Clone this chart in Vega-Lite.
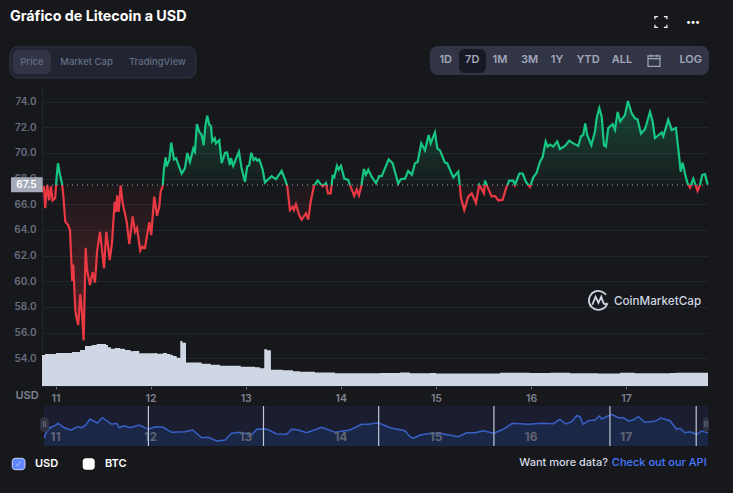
{
"$schema":"https://vega.github.io/schema/vega-lite/v6.json",
"width":666,"height":300,
"autosize":{"type":"none"},
"padding":{"left":42,"right":25,"top":86,"bottom":107},
"background":"#17181b",
"config":{"view":{"stroke":null},"text":{"font":"Inter","fontSize":11,"fontWeight":600,"baseline":"middle","align":"center"}},
"datasets":{
"price":[
{"t":10.858,"price":67.0},{"t":10.879,"price":67.4},{"t":10.892,"price":65.7},{"t":10.913,"price":67.5},{"t":10.934,"price":66.3},{"t":10.952,"price":67.4},{"t":10.970,"price":66.3},{"t":10.997,"price":66.5},{"t":11.012,"price":68.15},{"t":11.026,"price":69.2},{"t":11.047,"price":68.3},{"t":11.068,"price":67.65},{"t":11.082,"price":66.7},{"t":11.103,"price":64.65},{"t":11.131,"price":64.4},{"t":11.152,"price":64},{"t":11.176,"price":60},{"t":11.187,"price":61.3},{"t":11.208,"price":57.75},{"t":11.223,"price":57.1},{"t":11.239,"price":56.6},{"t":11.260,"price":59},{"t":11.278,"price":57.5},{"t":11.296,"price":55.4},{"t":11.317,"price":62.6},{"t":11.331,"price":60.9},{"t":11.362,"price":59.7},{"t":11.391,"price":60.7},{"t":11.415,"price":59.9},{"t":11.439,"price":62.45},{"t":11.468,"price":63.85},{"t":11.485,"price":62.7},{"t":11.510,"price":61},{"t":11.534,"price":63.85},{"t":11.570,"price":61.65},{"t":11.594,"price":63},{"t":11.622,"price":66.2},{"t":11.636,"price":65.4},{"t":11.649,"price":66.7},{"t":11.664,"price":65.4},{"t":11.685,"price":67.45},{"t":11.706,"price":66.1},{"t":11.748,"price":64.65},{"t":11.776,"price":62.9},{"t":11.811,"price":65.05},{"t":11.836,"price":63.85},{"t":11.857,"price":64.15},{"t":11.891,"price":62.4},{"t":11.912,"price":62.7},{"t":11.941,"price":62.6},{"t":11.986,"price":64.6},{"t":12.007,"price":63.6},{"t":12.038,"price":66.6},{"t":12.067,"price":65.1},{"t":12.091,"price":65.8},{"t":12.106,"price":67},{"t":12.127,"price":67.4},{"t":12.140,"price":68.7},{"t":12.158,"price":69.65},{"t":12.169,"price":68.95},{"t":12.196,"price":69.45},{"t":12.217,"price":70.8},{"t":12.246,"price":69.5},{"t":12.267,"price":69.6},{"t":12.327,"price":68.4},{"t":12.361,"price":68.8},{"t":12.386,"price":70},{"t":12.414,"price":69.3},{"t":12.449,"price":70.35},{"t":12.466,"price":70.1},{"t":12.487,"price":72.25},{"t":12.512,"price":71.65},{"t":12.537,"price":71.4},{"t":12.558,"price":70.6},{"t":12.575,"price":72.1},{"t":12.596,"price":72.9},{"t":12.617,"price":72.2},{"t":12.635,"price":72.1},{"t":12.648,"price":70.9},{"t":12.674,"price":71.15},{"t":12.687,"price":70.75},{"t":12.722,"price":71},{"t":12.747,"price":69.2},{"t":12.782,"price":70},{"t":12.803,"price":70.05},{"t":12.834,"price":69.05},{"t":12.845,"price":69.6},{"t":12.869,"price":69},{"t":12.898,"price":69.55},{"t":12.929,"price":70.1},{"t":12.957,"price":68.8},{"t":12.992,"price":67.75},{"t":13.016,"price":68.95},{"t":13.037,"price":69.05},{"t":13.058,"price":70},{"t":13.084,"price":69.45},{"t":13.105,"price":69.6},{"t":13.122,"price":69.4},{"t":13.143,"price":69.5},{"t":13.178,"price":68.7},{"t":13.202,"price":67.7},{"t":13.237,"price":67.95},{"t":13.273,"price":68.2},{"t":13.318,"price":67.95},{"t":13.378,"price":68.6},{"t":13.413,"price":67.95},{"t":13.437,"price":67.4},{"t":13.465,"price":65.55},{"t":13.494,"price":65.8},{"t":13.507,"price":65.55},{"t":13.528,"price":66},{"t":13.563,"price":65.15},{"t":13.588,"price":64.8},{"t":13.634,"price":65.3},{"t":13.658,"price":64.8},{"t":13.683,"price":66.2},{"t":13.718,"price":67.45},{"t":13.757,"price":67.85},{"t":13.809,"price":67.4},{"t":13.823,"price":67.5},{"t":13.844,"price":67.65},{"t":13.865,"price":66.85},{"t":13.893,"price":66.85},{"t":13.914,"price":68.2},{"t":13.931,"price":68.1},{"t":13.960,"price":69},{"t":13.977,"price":68.7},{"t":14.002,"price":69},{"t":14.036,"price":68},{"t":14.078,"price":67.9},{"t":14.104,"price":67.35},{"t":14.141,"price":66.65},{"t":14.167,"price":67.15},{"t":14.191,"price":66.7},{"t":14.215,"price":67.4},{"t":14.243,"price":68.75},{"t":14.264,"price":68.3},{"t":14.289,"price":68.7},{"t":14.324,"price":68.15},{"t":14.370,"price":67.65},{"t":14.404,"price":68.2},{"t":14.430,"price":68.2},{"t":14.464,"price":68.8},{"t":14.503,"price":69.5},{"t":14.545,"price":69.2},{"t":14.604,"price":67.6},{"t":14.629,"price":67.95},{"t":14.675,"price":68},{"t":14.709,"price":68.6},{"t":14.748,"price":68.3},{"t":14.780,"price":69.2},{"t":14.808,"price":69.3},{"t":14.846,"price":70.75},{"t":14.885,"price":70.2},{"t":14.924,"price":71.4},{"t":14.945,"price":70.75},{"t":14.990,"price":71.6},{"t":15.014,"price":70.35},{"t":15.043,"price":70.2},{"t":15.095,"price":69.25},{"t":15.119,"price":69.2},{"t":15.183,"price":68.1},{"t":15.235,"price":68.55},{"t":15.253,"price":67.35},{"t":15.263,"price":66.5},{"t":15.298,"price":65.55},{"t":15.340,"price":66.6},{"t":15.376,"price":66.85},{"t":15.421,"price":66.1},{"t":15.456,"price":67.5},{"t":15.505,"price":66.85},{"t":15.516,"price":67.85},{"t":15.540,"price":67.4},{"t":15.586,"price":66.6},{"t":15.621,"price":66.65},{"t":15.656,"price":66.3},{"t":15.702,"price":66.35},{"t":15.737,"price":67.25},{"t":15.771,"price":67.85},{"t":15.813,"price":67.85},{"t":15.831,"price":67.5},{"t":15.877,"price":68.4},{"t":15.912,"price":68.4},{"t":15.947,"price":67.75},{"t":15.989,"price":67.35},{"t":16.024,"price":68.1},{"t":16.059,"price":68.45},{"t":16.094,"price":69.3},{"t":16.123,"price":69.7},{"t":16.154,"price":70.9},{"t":16.175,"price":70.5},{"t":16.199,"price":70.65},{"t":16.234,"price":70.5},{"t":16.276,"price":70.9},{"t":16.304,"price":70.3},{"t":16.357,"price":70.55},{"t":16.402,"price":70.95},{"t":16.444,"price":70.75},{"t":16.497,"price":70.55},{"t":16.525,"price":71.3},{"t":16.549,"price":71.4},{"t":16.570,"price":72.3},{"t":16.591,"price":71.4},{"t":16.634,"price":70.6},{"t":16.672,"price":71.65},{"t":16.690,"price":72.7},{"t":16.718,"price":73.5},{"t":16.743,"price":72.85},{"t":16.767,"price":70.6},{"t":16.788,"price":70.5},{"t":16.812,"price":71.95},{"t":16.859,"price":72.25},{"t":16.883,"price":71.8},{"t":16.911,"price":73.2},{"t":16.938,"price":72.45},{"t":16.988,"price":72.95},{"t":17.019,"price":74.05},{"t":17.058,"price":73.1},{"t":17.093,"price":72.7},{"t":17.121,"price":72.6},{"t":17.156,"price":71.5},{"t":17.198,"price":71.85},{"t":17.251,"price":73.2},{"t":17.279,"price":72.45},{"t":17.303,"price":71.15},{"t":17.374,"price":71.6},{"t":17.391,"price":71.3},{"t":17.443,"price":72.6},{"t":17.479,"price":71.8},{"t":17.524,"price":71.95},{"t":17.548,"price":70.35},{"t":17.574,"price":68.55},{"t":17.595,"price":69.25},{"t":17.619,"price":68.4},{"t":17.643,"price":67.7},{"t":17.672,"price":67.3},{"t":17.706,"price":68},{"t":17.752,"price":67.05},{"t":17.776,"price":67.5},{"t":17.801,"price":68.3},{"t":17.829,"price":68.35},{"t":17.857,"price":67.55}
],
"volume":[
{"t":10.858,"vol":3.1},{"t":10.889,"vol":3.2},{"t":11.005,"vol":3.3},{"t":11.173,"vol":3.4},{"t":11.257,"vol":3.6},{"t":11.31,"vol":4.0},{"t":11.38,"vol":4.1},{"t":11.433,"vol":4.2},{"t":11.531,"vol":4.1},{"t":11.552,"vol":3.87},{"t":11.583,"vol":3.73},{"t":11.625,"vol":3.8},{"t":11.678,"vol":3.73},{"t":11.73,"vol":3.6},{"t":11.79,"vol":3.47},{"t":11.815,"vol":3.5},{"t":11.881,"vol":3.27},{"t":12.046,"vol":3.3},{"t":12.067,"vol":3.23},{"t":12.13,"vol":3.3},{"t":12.172,"vol":3.2},{"t":12.204,"vol":3.13},{"t":12.235,"vol":3.0},{"t":12.274,"vol":2.83},{"t":12.312,"vol":4.5},{"t":12.335,"vol":4.33},{"t":12.372,"vol":2.35},{"t":12.537,"vol":2.23},{"t":12.632,"vol":2.13},{"t":12.729,"vol":2.03},{"t":12.947,"vol":1.93},{"t":13.097,"vol":1.87},{"t":13.15,"vol":1.77},{"t":13.195,"vol":3.67},{"t":13.224,"vol":3.57},{"t":13.265,"vol":1.63},{"t":13.392,"vol":1.57},{"t":13.497,"vol":1.47},{"t":13.571,"vol":1.43},{"t":13.728,"vol":1.35},{"t":13.939,"vol":1.28},{"t":14.412,"vol":1.3},{"t":14.622,"vol":1.35},{"t":14.727,"vol":1.28},{"t":14.937,"vol":1.3},{"t":15.0,"vol":1.25},{"t":15.463,"vol":1.25},{"t":15.674,"vol":1.32},{"t":15.989,"vol":1.3},{"t":16.199,"vol":1.32},{"t":16.41,"vol":1.27},{"t":16.704,"vol":1.25},{"t":16.935,"vol":1.33},{"t":17.093,"vol":1.27},{"t":17.461,"vol":1.3},{"t":17.524,"vol":1.33},{"t":17.776,"vol":1.33},{"t":17.861,"vol":1.3}
],
"nav":[
{"t":10.882,"v":7.7},{"t":10.897,"v":12.7},{"t":10.942,"v":18.3},{"t":10.994,"v":20.3},{"t":11.029,"v":22.7},{"t":11.082,"v":18.7},{"t":11.134,"v":16.7},{"t":11.17,"v":16},{"t":11.229,"v":19.3},{"t":11.275,"v":18.3},{"t":11.32,"v":21},{"t":11.362,"v":27},{"t":11.439,"v":23},{"t":11.492,"v":28.3},{"t":11.544,"v":25},{"t":11.591,"v":21.7},{"t":11.643,"v":22.7},{"t":11.67,"v":18.3},{"t":11.72,"v":20.3},{"t":11.783,"v":18.3},{"t":11.881,"v":21},{"t":11.975,"v":16.7},{"t":12.046,"v":19.3},{"t":12.133,"v":18.7},{"t":12.221,"v":13.7},{"t":12.361,"v":14.3},{"t":12.442,"v":16},{"t":12.537,"v":8.3},{"t":12.606,"v":8.7},{"t":12.695,"v":5},{"t":12.782,"v":6},{"t":12.852,"v":12.7},{"t":12.94,"v":13.7},{"t":13.063,"v":11},{"t":13.115,"v":16.7},{"t":13.22,"v":17},{"t":13.325,"v":12},{"t":13.431,"v":11.7},{"t":13.483,"v":16.7},{"t":13.553,"v":16},{"t":13.641,"v":13.3},{"t":13.799,"v":18.7},{"t":13.939,"v":13.7},{"t":14.026,"v":15},{"t":14.096,"v":16},{"t":14.219,"v":21.7},{"t":14.289,"v":21.7},{"t":14.394,"v":23.3},{"t":14.517,"v":18.3},{"t":14.675,"v":15.3},{"t":14.727,"v":9.3},{"t":14.762,"v":7.7},{"t":14.832,"v":11},{"t":14.955,"v":12.7},{"t":15.095,"v":11.7},{"t":15.235,"v":9.3},{"t":15.323,"v":13.3},{"t":15.411,"v":13.3},{"t":15.498,"v":15.3},{"t":15.61,"v":12.7},{"t":15.708,"v":16.7},{"t":15.803,"v":22.7},{"t":15.971,"v":21.7},{"t":16.112,"v":22.7},{"t":16.234,"v":22.3},{"t":16.304,"v":26.7},{"t":16.367,"v":22},{"t":16.427,"v":24.3},{"t":16.48,"v":30.3},{"t":16.515,"v":29.3},{"t":16.549,"v":21.7},{"t":16.602,"v":25.3},{"t":16.672,"v":26},{"t":16.718,"v":30},{"t":16.743,"v":27},{"t":16.848,"v":31.7},{"t":16.918,"v":28.3},{"t":16.97,"v":28.3},{"t":17.023,"v":25},{"t":17.075,"v":26},{"t":17.128,"v":29.3},{"t":17.198,"v":23.7},{"t":17.303,"v":24.7},{"t":17.366,"v":28},{"t":17.461,"v":25.3},{"t":17.532,"v":16.7},{"t":17.566,"v":17.7},{"t":17.619,"v":13.3},{"t":17.672,"v":14.3},{"t":17.742,"v":11.7},{"t":17.794,"v":15},{"t":17.861,"v":13.3}
],
"navLabels":[{"day":11},{"day":12},{"day":13},{"day":14},{"day":15},{"day":16},{"day":17}],
"navMarkers":[{"t":11.977},{"t":13.187},{"t":14.398},{"t":15.61},{"t":16.83},{"t":17.737}],
"one":[{"n":1}]
},
"layer":[
{"layer":[
{"data":{"name":"price"},
 "mark":{"type":"area","fill":{"gradient":"linear","x1":0,"y1":0,"x2":0,"y2":1,"stops":[{"offset":0,"color":"rgba(22,199,132,0.28)"},{"offset":0.351,"color":"rgba(22,199,132,0.02)"},{"offset":0.351,"color":"rgba(234,57,67,0.03)"},{"offset":1,"color":"rgba(234,57,67,0.3)"}]}},
 "encoding":{
  "x":{"field":"t","type":"quantitative","scale":{"domain":[10.858,17.861],"nice":false,"zero":false},"axis":{"title":null,"values":[11,12,13,14,15,16,17],"format":"d","grid":false,"domainColor":"#222531","tickColor":"#6f7384","tickSize":3,"labelColor":"#7f8392","labelFont":"Inter","labelFontSize":10.5,"labelFontWeight":600,"labelPadding":4,"labelFlush":false}},
  "y":{"field":"price","type":"quantitative","scale":{"domain":[51.84,75.22],"nice":false,"zero":false},"axis":{"title":null,"values":[54,56,58,60,62,64,66,68,70,72,74],"tickCount":11,"format":".1f","grid":true,"gridColor":"#222531","domainColor":"#222531","ticks":false,"labelColor":"#6a6e80","labelFont":"Inter","labelFontSize":10,"labelFontWeight":600,"labelPadding":6,"labelOverlap":false}},
  "y2":{"datum":67.5}}},
{"data":{"name":"price"},
 "mark":{"type":"line","strokeWidth":2.2,"stroke":{"gradient":"linear","x1":0,"y1":0,"x2":0,"y2":1,"stops":[{"offset":0,"color":"#16c784"},{"offset":0.351,"color":"#16c784"},{"offset":0.351,"color":"#ea3943"},{"offset":1,"color":"#ea3943"}]}},
 "encoding":{"x":{"field":"t","type":"quantitative"},"y":{"field":"price","type":"quantitative"}}},
{"data":{"name":"one"},"mark":{"type":"rule","stroke":"#a1a7bb","strokeWidth":1,"strokeDash":[1,4]},"encoding":{"y":{"datum":67.5}}},
{"data":{"name":"one"},"mark":{"type":"rect","fill":"#a6abb9"},"encoding":{"x":{"datum":10.532},"x2":{"datum":10.865},"y":{"datum":68.108},"y2":{"datum":66.939}}},
{"data":{"values":[{"label":"67.5"}]},"mark":{"type":"text","color":"#ffffff","fontSize":10},"encoding":{"text":{"field":"label"},"x":{"datum":10.695},"y":{"datum":67.5}}},
{"data":{"values":[{"label":"USD"}]},"mark":{"type":"text","color":"#7f8392"},"encoding":{"text":{"field":"label"},"x":{"datum":10.7},"y":{"datum":51.024}}},

{"data":{"values":[{"label":"Gráfico de Litecoin a USD"}]},"mark":{"type":"text","color":"#ffffff","align":"left","fontSize":14.3,"fontWeight":700},"encoding":{"text":{"field":"label"},"x":{"datum":10.521},"y":{"datum":80.602}}},
{"data":{"name":"one"},"mark":{"type":"rect","fill":"#222531","stroke":"#323546","cornerRadius":8},"encoding":{"x":{"datum":10.521},"x2":{"datum":12.477},"y":{"datum":78.264},"y2":{"datum":75.847}}},
{"data":{"name":"one"},"mark":{"type":"rect","fill":"#323546","cornerRadius":6},"encoding":{"x":{"datum":10.553},"x2":{"datum":10.952},"y":{"datum":78.03},"y2":{"datum":76.16}}},
{"data":{"values":[{"label":"Price"}]},"mark":{"type":"text","color":"#616e85","fontSize":9.5,"fontWeight":500},"encoding":{"text":{"field":"label"},"x":{"datum":10.752},"y":{"datum":77.056}}},
{"data":{"values":[{"label":"Market Cap"}]},"mark":{"type":"text","color":"#616e85","fontSize":9.5,"fontWeight":500},"encoding":{"text":{"field":"label"},"x":{"datum":11.326},"y":{"datum":77.056}}},
{"data":{"values":[{"label":"TradingView"}]},"mark":{"type":"text","color":"#616e85","fontSize":9.5,"fontWeight":500},"encoding":{"text":{"field":"label"},"x":{"datum":12.072},"y":{"datum":77.056}}},

{"data":{"name":"one"},"mark":{"type":"rect","fill":"#323546","cornerRadius":8},"encoding":{"x":{"datum":14.937},"x2":{"datum":17.871},"y":{"datum":78.342},"y2":{"datum":76.081}}},
{"data":{"name":"one"},"mark":{"type":"rect","fill":"#171924","cornerRadius":6},"encoding":{"x":{"datum":15.242},"x2":{"datum":15.526},"y":{"datum":78.108},"y2":{"datum":76.237}}},
{"data":{"values":[{"label":"1D"}]},"mark":{"type":"text","color":"#a1a7bb"},"encoding":{"text":{"field":"label"},"x":{"datum":15.103},"y":{"datum":77.212}}},
{"data":{"values":[{"label":"7D"}]},"mark":{"type":"text","color":"#a1a7bb"},"encoding":{"text":{"field":"label"},"x":{"datum":15.382},"y":{"datum":77.212}}},
{"data":{"values":[{"label":"1M"}]},"mark":{"type":"text","color":"#a1a7bb"},"encoding":{"text":{"field":"label"},"x":{"datum":15.674},"y":{"datum":77.212}}},
{"data":{"values":[{"label":"3M"}]},"mark":{"type":"text","color":"#a1a7bb"},"encoding":{"text":{"field":"label"},"x":{"datum":15.984},"y":{"datum":77.212}}},
{"data":{"values":[{"label":"1Y"}]},"mark":{"type":"text","color":"#a1a7bb"},"encoding":{"text":{"field":"label"},"x":{"datum":16.273},"y":{"datum":77.212}}},
{"data":{"values":[{"label":"YTD"}]},"mark":{"type":"text","color":"#a1a7bb"},"encoding":{"text":{"field":"label"},"x":{"datum":16.599},"y":{"datum":77.212}}},
{"data":{"values":[{"label":"ALL"}]},"mark":{"type":"text","color":"#a1a7bb"},"encoding":{"text":{"field":"label"},"x":{"datum":16.956},"y":{"datum":77.212}}},
{"data":{"values":[{"label":"LOG"}]},"mark":{"type":"text","color":"#a1a7bb"},"encoding":{"text":{"field":"label"},"x":{"datum":17.679},"y":{"datum":77.212}}},
{"data":{"name":"one"},"mark":{"type":"point","size":144,"filled":false,"opacity":1,"stroke":"#a1a7bb","strokeWidth":1.2,"shape":"M-1,-0.75 H1 V1 H-1 Z M-1,-0.3 H1 M-0.5,-1 V-0.55 M0.5,-1 V-0.55"},"encoding":{"x":{"datum":17.293},"y":{"datum":77.212}}},
{"data":{"name":"one"},"mark":{"type":"point","size":144,"filled":false,"opacity":1,"stroke":"#ffffff","strokeWidth":1.2,"shape":"M-1,-0.45 V-0.9 H-0.5 M0.5,-0.9 H1 V-0.45 M1,0.45 V0.9 H0.5 M-0.5,0.9 H-1 V0.45"},"encoding":{"x":{"datum":17.366},"y":{"datum":80.212}}},
{"data":{"values":[{"label":"•••"}]},"mark":{"type":"text","color":"#ffffff","fontSize":9},"encoding":{"text":{"field":"label"},"x":{"datum":17.703},"y":{"datum":80.212}}},

{"data":{"name":"one"},"mark":{"type":"point","size":361,"filled":false,"opacity":1,"stroke":"#cfd6e4","strokeWidth":1.8,"shape":"M0.95,0.3 A1,1 0 1 1 0.8,-0.6 M-0.65,0.45 L-0.3,-0.4 L0,0.25 L0.3,-0.4 L0.5,0.2 Q0.6,0.5 0.95,0.3"},"encoding":{"x":{"datum":16.709},"y":{"datum":58.506}}},
{"data":{"values":[{"label":"CoinMarketCap"}]},"mark":{"type":"text","color":"#cfd6e4","align":"left","fontSize":11.7,"fontWeight":500},"encoding":{"text":{"field":"label"},"x":{"datum":16.872},"y":{"datum":58.467}}},

{"data":{"name":"one"},"mark":{"type":"rect","fill":"#6188ff","stroke":"#c8d2f0","cornerRadius":3},"encoding":{"x":{"datum":10.545},"x2":{"datum":10.679},"y":{"datum":46.207},"y2":{"datum":45.319}}},
{"data":{"values":[{"label":"✓"}]},"mark":{"type":"text","color":"#a9bcf5","font":"DejaVu Sans","fontSize":9},"encoding":{"text":{"field":"label"},"x":{"datum":10.612},"y":{"datum":45.763}}},
{"data":{"values":[{"label":"USD"}]},"mark":{"type":"text","color":"#ffffff","align":"left"},"encoding":{"text":{"field":"label"},"x":{"datum":10.784},"y":{"datum":45.763}}},
{"data":{"name":"one"},"mark":{"type":"rect","fill":"#ffffff","cornerRadius":3},"encoding":{"x":{"datum":11.286},"x2":{"datum":11.412},"y":{"datum":46.207},"y2":{"datum":45.319}}},
{"data":{"values":[{"label":"BTC"}]},"mark":{"type":"text","color":"#ffffff","align":"left"},"encoding":{"text":{"field":"label"},"x":{"datum":11.52},"y":{"datum":45.763}}},
{"data":{"values":[{"label":"Want more data?"}]},"mark":{"type":"text","color":"#d5dae5","align":"right","fontWeight":500},"encoding":{"text":{"field":"label"},"x":{"datum":16.809},"y":{"datum":45.841}}},
{"data":{"values":[{"label":"Check out our API"}]},"mark":{"type":"text","color":"#4878ff","align":"right","fontWeight":500},"encoding":{"text":{"field":"label"},"x":{"datum":17.847},"y":{"datum":45.841}}}
]},
{"data":{"name":"volume"},
 "mark":{"type":"area","interpolate":"step-after","fill":"#cfd6e4"},
 "encoding":{"x":{"field":"t","type":"quantitative"},"y":{"field":"vol","type":"quantitative","scale":{"domain":[0,30],"nice":false},"axis":null}}},
{"layer":[
{"data":{"name":"one"},"mark":{"type":"rect","fill":"#1a1e30"},"encoding":{"x":{"datum":10.879},"x2":{"datum":17.861},"y":{"datum":0,"scale":{"domain":[0,40],"range":[360,320],"nice":false},"axis":null},"y2":{"datum":40}}},
{"data":{"name":"nav"},"mark":{"type":"area","fill":"#1b2747"},"encoding":{"x":{"field":"t","type":"quantitative"},"y":{"field":"v","type":"quantitative"},"y2":{"datum":0}}},
{"data":{"name":"nav"},"mark":{"type":"line","stroke":"#3861c7","strokeWidth":1.5},"encoding":{"x":{"field":"t","type":"quantitative"},"y":{"field":"v","type":"quantitative"}}},
{"data":{"name":"navLabels"},"mark":{"type":"text","color":"#5f6472","fontSize":12,"fontWeight":700},"encoding":{"text":{"field":"day"},"x":{"field":"day","type":"quantitative"},"y":{"datum":9.3}}},
{"data":{"name":"navMarkers"},"mark":{"type":"rule","stroke":"#c4c8d4","strokeWidth":1.2},"encoding":{"x":{"field":"t","type":"quantitative"},"y":{"datum":0},"y2":{"datum":40}}},
{"data":{"name":"one"},"mark":{"type":"rect","fill":"#2f3241","cornerRadius":4},"encoding":{"x":{"datum":10.837},"x2":{"datum":10.931},"y":{"datum":14},"y2":{"datum":29}}},
{"data":{"name":"one"},"mark":{"type":"rect","fill":"#2f3241","cornerRadius":4},"encoding":{"x":{"datum":17.808},"x2":{"datum":17.871},"y":{"datum":14},"y2":{"datum":29}}},
{"data":{"values":[{"label":"II"}]},"mark":{"type":"text","color":"#7f8392","fontSize":8,"fontWeight":400},"encoding":{"text":{"field":"label"},"x":{"datum":10.884},"y":{"datum":21.5}}},
{"data":{"values":[{"label":"II"}]},"mark":{"type":"text","color":"#7f8392","fontSize":8,"fontWeight":400},"encoding":{"text":{"field":"label"},"x":{"datum":17.84},"y":{"datum":21.5}}}
]}
],
"resolve":{"scale":{"y":"independent"}}
}
